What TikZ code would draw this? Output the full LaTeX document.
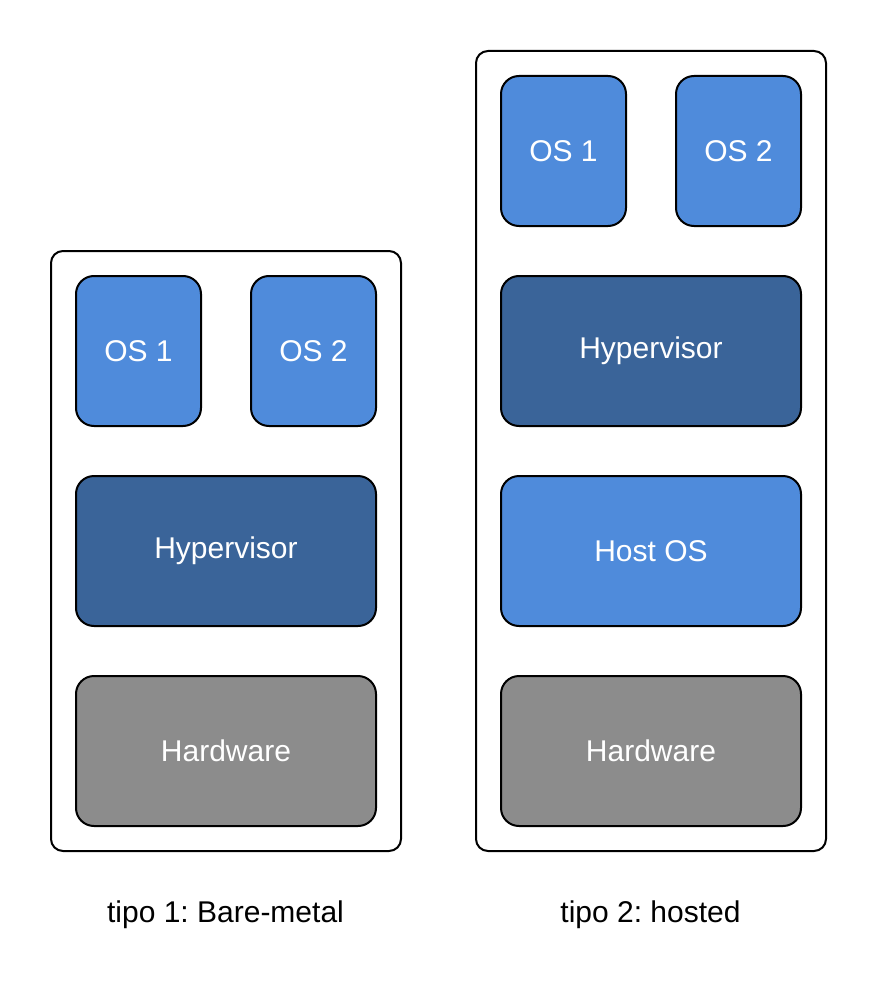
\documentclass[tikz,border=0pt]{standalone}
\usepackage{fontspec}
\setmainfont{Liberation Sans}
\frenchspacing
\definecolor{lblue}{HTML}{4F8BDB}
\definecolor{dblue}{HTML}{3A6499}
\definecolor{hwgray}{HTML}{8C8C8C}
\begin{document}
\begin{tikzpicture}[x=1pt,y=-1pt,
  base/.style={draw=black,line width=2pt,rectangle,rounded corners=18pt,inner sep=0pt,text=white,font=\fontsize{30}{36}\selectfont},
  osbox/.style={base,fill=lblue,minimum width=125pt,minimum height=150pt},
  widebox/.style={base,minimum width=300pt,minimum height=150pt},
  outer/.style={draw=black,line width=2pt,rounded corners=12pt,fill=white,inner sep=0pt},
  caption/.style={font=\fontsize{30}{36}\selectfont,text=black,inner sep=0pt}]
\useasboundingbox (0,0) rectangle (878,1003);
% left stack
\node[outer,minimum width=350pt,minimum height=600pt] (L) at (226,551) {};
\node[osbox] (LOS1) at (138.5,351) {OS 1};
\node[osbox] (LOS2) at (313.5,351) {OS 2};
\node[widebox,fill=dblue] (LHYP) at (226,551) {Hypervisor};
\node[widebox,fill=hwgray] (LHW) at (226,751) {Hardware};
\node[caption] (LCAP) at (225.5,915) {tipo 1: Bare-metal};
% right stack
\node[outer,minimum width=350pt,minimum height=800pt] (R) at (651,451) {};
\node[osbox] (ROS1) at (563.5,151) {OS 1};
\node[osbox] (ROS2) at (738.5,151) {OS 2};
\node[widebox,fill=dblue] (RHYP) at (651,351) {Hypervisor};
\node[widebox,fill=lblue] (RHOST) at (651,551) {Host OS};
\node[widebox,fill=hwgray] (RHW) at (651,751) {Hardware};
\node[caption] (RCAP) at (650.5,915) {tipo 2: hosted};
\end{tikzpicture}
\end{document}
